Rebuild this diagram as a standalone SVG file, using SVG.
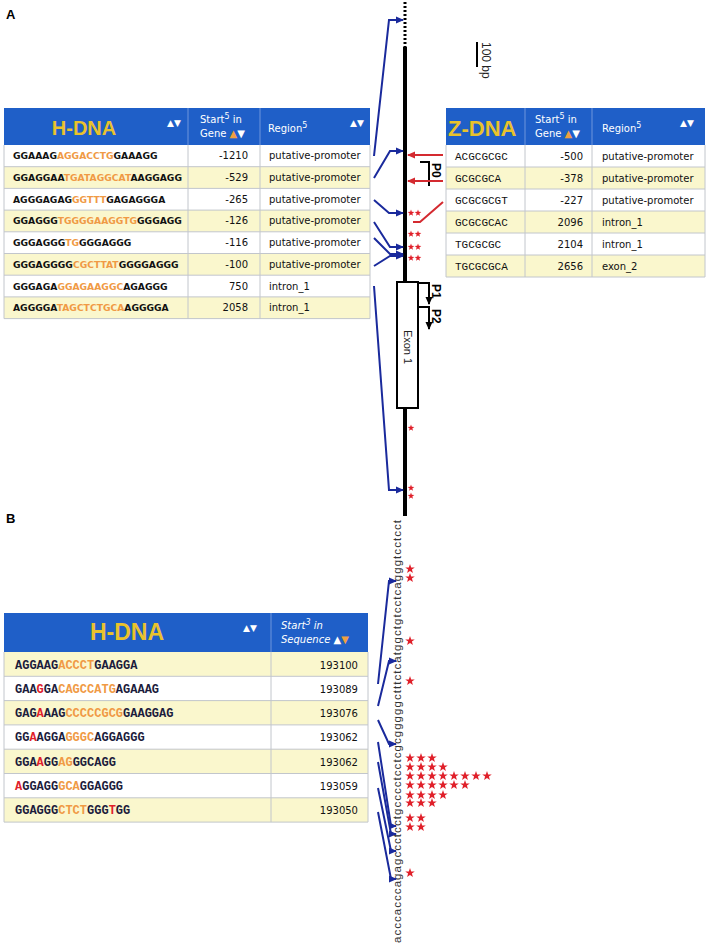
<svg xmlns="http://www.w3.org/2000/svg" width="708" height="947" viewBox="0 0 708 947">
<defs>
<style>
.hdr{fill:#1f5fc8}
.ry{fill:#faf7cd}
.rw{fill:#ffffff}
.grid{stroke:#c2c6cc;stroke-width:1;fill:none}
.hsep{stroke:#6f96dc;stroke-width:1}
.ttl{font-family:"Liberation Sans",Arial,sans-serif;font-weight:bold;fill:#e9c22c}
.ht{font-family:"DejaVu Sans",sans-serif;font-size:10px;fill:#fff}
.arw{font-family:"DejaVu Sans",sans-serif;font-size:9px;fill:#fff}
.cell{font-family:"DejaVu Sans",sans-serif;font-size:10px;fill:#111}
.num{text-anchor:end}
.seqA{font-family:"DejaVu Sans",sans-serif;font-weight:bold;font-size:9.2px;fill:#111}
.seqZ{font-family:"Liberation Mono",monospace;font-size:11px;fill:#111}
.seqB{font-family:"Liberation Mono",monospace;font-weight:bold;font-size:12px;fill:#1c1c3c}
.o{fill:#f09a45}
.r{fill:#e0202a}
.w{fill:#fff}
.blue{stroke:#1a2a9c;stroke-width:2;fill:none;marker-end:url(#ab)}
.red{stroke:#d42a30;stroke-width:2;fill:none}
.blk{stroke:#000;stroke-width:2;fill:none}
.lbl{font-family:"Liberation Sans",Arial,sans-serif;font-weight:bold;font-size:12px;fill:#000}
.panel{font-family:"Liberation Sans",Arial,sans-serif;font-weight:bold;font-size:13px;fill:#000}
.st{fill:#e0202a}
</style>
<marker id="ab" markerWidth="8" markerHeight="8" refX="7" refY="4" orient="auto" markerUnits="userSpaceOnUse"><path d="M0,0.5 L8,4 L0,7.5 z" fill="#1a2a9c"/></marker>
<marker id="ar" markerWidth="8" markerHeight="8" refX="7" refY="4" orient="auto" markerUnits="userSpaceOnUse"><path d="M0,0.5 L8,4 L0,7.5 z" fill="#d42a30"/></marker>
<marker id="ak" markerWidth="8" markerHeight="8" refX="7" refY="4" orient="auto" markerUnits="userSpaceOnUse"><path d="M0,0.5 L8,4 L0,7.5 z" fill="#000"/></marker>
<path id="sa" d="M0,-3.5 L0.82,-1.13 L3.33,-1.08 L1.33,0.43 L2.06,2.83 L0,1.4 L-2.06,2.83 L-1.33,0.43 L-3.33,-1.08 L-0.82,-1.13 Z"/>
<path id="sb" d="M0,-5 L1.18,-1.62 L4.76,-1.55 L1.9,0.62 L2.94,4.05 L0,2 L-2.94,4.05 L-1.9,0.62 L-4.76,-1.55 L-1.18,-1.62 Z"/>
</defs>
<rect width="708" height="947" fill="#fff"/>

<text class="panel" x="6" y="19">A</text>
<text class="panel" x="6" y="523">B</text>

<!-- Panel A H-DNA table -->
<g id="tableA-hdna">
<rect class="hdr" x="4" y="108" width="366" height="37"/>
<line class="hsep" x1="188" y1="108" x2="188" y2="145"/>
<line class="hsep" x1="260" y1="108" x2="260" y2="145"/>
<text class="ttl" x="84" y="135" font-size="20" text-anchor="middle">H-DNA</text>
<text class="arw" x="167" y="126">▲▼</text>
<text class="ht" x="200" y="123">Start<tspan font-size="8" dy="-4">5</tspan><tspan dy="4"> in</tspan></text>
<text class="ht" x="200" y="137">Gene <tspan fill="#f0a040">▲</tspan>▼</text>
<text class="ht" x="268" y="132">Region<tspan font-size="8" dy="-4">5</tspan></text>
<text class="arw" x="350" y="126">▲▼</text>
<rect class="rw" x="4" y="145" width="366" height="21.7"/>
<rect class="ry" x="4" y="166.7" width="366" height="21.7"/>
<rect class="rw" x="4" y="188.4" width="366" height="21.7"/>
<rect class="ry" x="4" y="210.1" width="366" height="21.7"/>
<rect class="rw" x="4" y="231.8" width="366" height="21.7"/>
<rect class="ry" x="4" y="253.5" width="366" height="21.7"/>
<rect class="rw" x="4" y="275.2" width="366" height="21.7"/>
<rect class="ry" x="4" y="296.9" width="366" height="21.7"/>
<path class="grid" d="M4,145 V318.6 H370 V145 M188,145 V318.6 M260,145 V318.6 M4,166.7 H370 M4,188.4 H370 M4,210.1 H370 M4,231.8 H370 M4,253.5 H370 M4,275.2 H370 M4,296.9 H370"/>
<text class="seqA" x="13" y="159.3">GGAAAG<tspan class="o">AGGACCTG</tspan>GAAAGG</text>
<text class="seqA" x="13" y="181">GGAGGAA<tspan class="o">TGATAGGCAT</tspan>AAGGAGG</text>
<text class="seqA" x="13" y="202.7">AGGGAGAG<tspan class="o">GGTTT</tspan>GAGAGGGA</text>
<text class="seqA" x="13" y="224.4">GGAGGG<tspan class="o">TGGGGAAGGTG</tspan>GGGAGG</text>
<text class="seqA" x="13" y="246.1">GGGAGGG<tspan class="o">TG</tspan>GGGAGGG</text>
<text class="seqA" x="13" y="267.8">GGGAGGGG<tspan class="o">CGCTTAT</tspan>GGGGAGGG</text>
<text class="seqA" x="13" y="289.5">GGGAGA<tspan class="o">GGAGAAGGC</tspan>AGAGGG</text>
<text class="seqA" x="13" y="311.2">AGGGGA<tspan class="o">TAGCTCTGCA</tspan>AGGGGA</text>
<g class="cell num">
<text x="248" y="159.3">-1210</text>
<text x="248" y="181">-529</text>
<text x="248" y="202.7">-265</text>
<text x="248" y="224.4">-126</text>
<text x="248" y="246.1">-116</text>
<text x="248" y="267.8">-100</text>
<text x="248" y="289.5">750</text>
<text x="248" y="311.2">2058</text>
</g>
<g class="cell">
<text x="269" y="159.3">putative-promoter</text>
<text x="269" y="181">putative-promoter</text>
<text x="269" y="202.7">putative-promoter</text>
<text x="269" y="224.4">putative-promoter</text>
<text x="269" y="246.1">putative-promoter</text>
<text x="269" y="267.8">putative-promoter</text>
<text x="269" y="289.5">intron_1</text>
<text x="269" y="311.2">intron_1</text>
</g>
</g>

<!-- Panel A Z-DNA table -->
<g id="tableA-zdna">
<rect class="hdr" x="446" y="108" width="259" height="37"/>
<line class="hsep" x1="525" y1="108" x2="525" y2="145"/>
<line class="hsep" x1="592" y1="108" x2="592" y2="145"/>
<text class="ttl" x="448" y="136" font-size="22">Z-DNA</text>
<text class="ht" x="535" y="123">Start<tspan font-size="8" dy="-4">5</tspan><tspan dy="4"> in</tspan></text>
<text class="ht" x="535" y="137">Gene <tspan fill="#f0a040">▲</tspan>▼</text>
<text class="ht" x="602" y="132">Region<tspan font-size="8" dy="-4">5</tspan></text>
<text class="arw" x="680" y="126">▲▼</text>
<rect class="rw" x="446" y="145" width="259" height="22"/>
<rect class="ry" x="446" y="167" width="259" height="22"/>
<rect class="rw" x="446" y="189" width="259" height="22"/>
<rect class="ry" x="446" y="211" width="259" height="22"/>
<rect class="rw" x="446" y="233" width="259" height="22"/>
<rect class="ry" x="446" y="255" width="259" height="22"/>
<path class="grid" d="M446,145 V277 H705 V145 M525,145 V277 M592,145 V277 M446,167 H705 M446,189 H705 M446,211 H705 M446,233 H705 M446,255 H705"/>
<g class="seqZ">
<text x="455" y="159.5">ACGCGCGC</text>
<text x="455" y="181.5">GCGCGCA</text>
<text x="455" y="203.5">GCGCGCGT</text>
<text x="455" y="225.5">GCGCGCAC</text>
<text x="455" y="247.5">TGCGCGC</text>
<text x="455" y="269.5">TGCGCGCA</text>
</g>
<g class="cell num">
<text x="583" y="159.5">-500</text>
<text x="583" y="181.5">-378</text>
<text x="583" y="203.5">-227</text>
<text x="583" y="225.5">2096</text>
<text x="583" y="247.5">2104</text>
<text x="583" y="269.5">2656</text>
</g>
<g class="cell">
<text x="602" y="159.5">putative-promoter</text>
<text x="602" y="181.5">putative-promoter</text>
<text x="602" y="203.5">putative-promoter</text>
<text x="602" y="225.5">intron_1</text>
<text x="602" y="247.5">intron_1</text>
<text x="602" y="269.5">exon_2</text>
</g>
</g>

<!-- Gene map -->
<g id="gene">
<line x1="405" y1="2" x2="405" y2="47" stroke="#000" stroke-width="3" stroke-dasharray="2,2"/>
<line x1="405" y1="47" x2="405" y2="516" stroke="#000" stroke-width="4"/>
<rect x="397" y="282" width="21" height="126" fill="#fff" stroke="#000" stroke-width="2"/>
<text transform="translate(403.5,347) rotate(90)" font-family="Liberation Sans,Arial,sans-serif" font-size="11" text-anchor="middle" fill="#222">Exon 1</text>
</g>
<g id="scale">
<line x1="477" y1="42" x2="477" y2="67" stroke="#000" stroke-width="2"/>
<text transform="translate(482,42) rotate(90)" font-family="Liberation Sans,Arial,sans-serif" font-size="12" fill="#222">100 bp</text>
</g>
<g id="promoters">
<path class="blk" d="M418,283 H429 V304" marker-end="url(#ak)"/>
<path class="blk" d="M418,307 H429 V329" marker-end="url(#ak)"/>
<path class="blk" d="M420,162 H429 V186"/>
<text class="lbl" transform="translate(432,163) rotate(90)">P0</text>
<text class="lbl" transform="translate(432,284) rotate(90)">P1</text>
<text class="lbl" transform="translate(432,309) rotate(90)">P2</text>
</g>
<g id="starsA" class="st">
<use href="#sa" x="411" y="213"/><use href="#sa" x="418" y="213"/>
<use href="#sa" x="411" y="234"/><use href="#sa" x="418" y="234"/>
<use href="#sa" x="411" y="247"/><use href="#sa" x="418" y="247"/>
<use href="#sa" x="411" y="258"/><use href="#sa" x="418" y="258"/>
<use href="#sa" x="411" y="428"/>
<use href="#sa" x="411" y="488"/>
<use href="#sa" x="411" y="496"/>
</g>

<!-- Panel B table -->
<g id="tableB-hdna">
<rect class="hdr" x="4" y="613" width="364" height="39"/>
<line class="hsep" x1="271" y1="613" x2="271" y2="652"/>
<text class="ttl" x="127" y="640" font-size="23" text-anchor="middle">H-DNA</text>
<text class="arw" x="243" y="631" font-size="10">▲▼</text>
<text class="ht" x="281" y="629" font-style="italic">Start<tspan font-size="8" dy="-4">3</tspan><tspan dy="4"> in</tspan></text>
<text class="ht" x="281" y="643" font-style="italic">Sequence ▲<tspan fill="#f0a040">▼</tspan></text>
<rect class="ry" x="4" y="652" width="364" height="24.3"/>
<rect class="rw" x="4" y="676.3" width="364" height="24.3"/>
<rect class="ry" x="4" y="700.6" width="364" height="24.3"/>
<rect class="rw" x="4" y="724.9" width="364" height="24.3"/>
<rect class="ry" x="4" y="749.2" width="364" height="24.3"/>
<rect class="rw" x="4" y="773.5" width="364" height="24.3"/>
<rect class="ry" x="4" y="797.8" width="364" height="24.3"/>
<path class="grid" d="M4,652 V822.1 H368 V652 M271,652 V822.1 M4,676.3 H368 M4,700.6 H368 M4,724.9 H368 M4,749.2 H368 M4,773.5 H368 M4,797.8 H368"/>
<text class="seqB" x="15" y="668.5">AGGAAG<tspan class="o">ACCCT</tspan>GAAGGA</text>
<text class="seqB" x="15" y="692.8">GAA<tspan class="r">G</tspan>GA<tspan class="o">CAGCCATG</tspan>AGAAAG</text>
<text class="seqB" x="15" y="717.1">GAG<tspan class="r">A</tspan>AAG<tspan class="o">CCCCCGCG</tspan>GAAGGAG</text>
<text class="seqB" x="15" y="741.4">GG<tspan class="r">A</tspan>AGGA<tspan class="o">GGGC</tspan>AGGAGGG</text>
<text class="seqB" x="15" y="765.7">GGA<tspan class="r">A</tspan>GG<tspan class="o">AG</tspan>GGCAGG</text>
<text class="seqB" x="15" y="790"><tspan class="r">A</tspan>GGAGG<tspan class="o">GCA</tspan>GGAGGG</text>
<text class="seqB" x="15" y="814.3">GGAGGG<tspan class="o">CTCT</tspan>GGG<tspan class="r">T</tspan>GG</text>
<g class="cell num">
<text x="358" y="668.5">193100</text>
<text x="358" y="692.8">193089</text>
<text x="358" y="717.1">193076</text>
<text x="358" y="741.4">193062</text>
<text x="358" y="765.7">193062</text>
<text x="358" y="790">193059</text>
<text x="358" y="814.3">193050</text>
</g>
</g>

<g id="sequenceB">
<text transform="translate(401,943) rotate(-90)" textLength="423" lengthAdjust="spacing" font-family="Liberation Sans,Arial,sans-serif" font-size="11.5" fill="#333">acccacccagagccctcctgcccctcctcgcgggggctttctcatggctgtcctcagggtcctcct</text>
</g>
<g id="starsB" class="st">
<use href="#sb" x="410" y="569"/>
<use href="#sb" x="410" y="578"/>
<use href="#sb" x="410" y="641"/>
<use href="#sb" x="410" y="681"/>
<use href="#sb" x="410" y="758"/><use href="#sb" x="421" y="758"/><use href="#sb" x="432" y="758"/>
<use href="#sb" x="410" y="767"/><use href="#sb" x="421" y="767"/><use href="#sb" x="432" y="767"/><use href="#sb" x="443" y="767"/>
<use href="#sb" x="410" y="776"/><use href="#sb" x="421" y="776"/><use href="#sb" x="432" y="776"/><use href="#sb" x="443" y="776"/><use href="#sb" x="454" y="776"/><use href="#sb" x="465" y="776"/><use href="#sb" x="476" y="776"/><use href="#sb" x="487" y="776"/>
<use href="#sb" x="410" y="785"/><use href="#sb" x="421" y="785"/><use href="#sb" x="432" y="785"/><use href="#sb" x="443" y="785"/><use href="#sb" x="454" y="785"/><use href="#sb" x="465" y="785"/>
<use href="#sb" x="410" y="795"/><use href="#sb" x="421" y="795"/><use href="#sb" x="432" y="795"/><use href="#sb" x="443" y="795"/>
<use href="#sb" x="410" y="803"/><use href="#sb" x="421" y="803"/><use href="#sb" x="432" y="803"/>
<use href="#sb" x="410" y="818"/><use href="#sb" x="421" y="818"/>
<use href="#sb" x="410" y="827"/><use href="#sb" x="421" y="827"/>
<use href="#sb" x="410" y="873"/>
</g>

<g id="connectors">
<path class="blue" d="M374,156 L389,20 L403,20"/>
<path class="blue" d="M374,178 L390,151 L403,151"/>
<path class="blue" d="M374,200 L389,213 L403,213"/>
<path class="blue" d="M374,222 L390,247 L403,247"/>
<path class="blue" d="M374,238 L390,254 L403,254"/>
<path class="blue" d="M374,266 L390,256 L403,256"/>
<path class="blue" d="M374,286 L389,490 L403,490"/>
<path class="red" d="M443,155 L408,155" marker-end="url(#ar)"/>
<path class="red" d="M443,181 L408,181" marker-end="url(#ar)"/>
<path class="red" d="M443,202 L420,222 L413,222"/>
<path class="blue" d="M378,684 L389,581 L396,581"/>
<path class="blue" d="M378,706 L389,661 L396,661"/>
<path class="blue" d="M378,720 L389,744 L396,744"/>
<path class="blue" d="M378,742 L391,826 L396,826"/>
<path class="blue" d="M378,762 L391,834 L396,834"/>
<path class="blue" d="M378,788 L391,851 L396,851"/>
<path class="blue" d="M378,812 L391,879 L396,879"/>
</g>
</svg>
